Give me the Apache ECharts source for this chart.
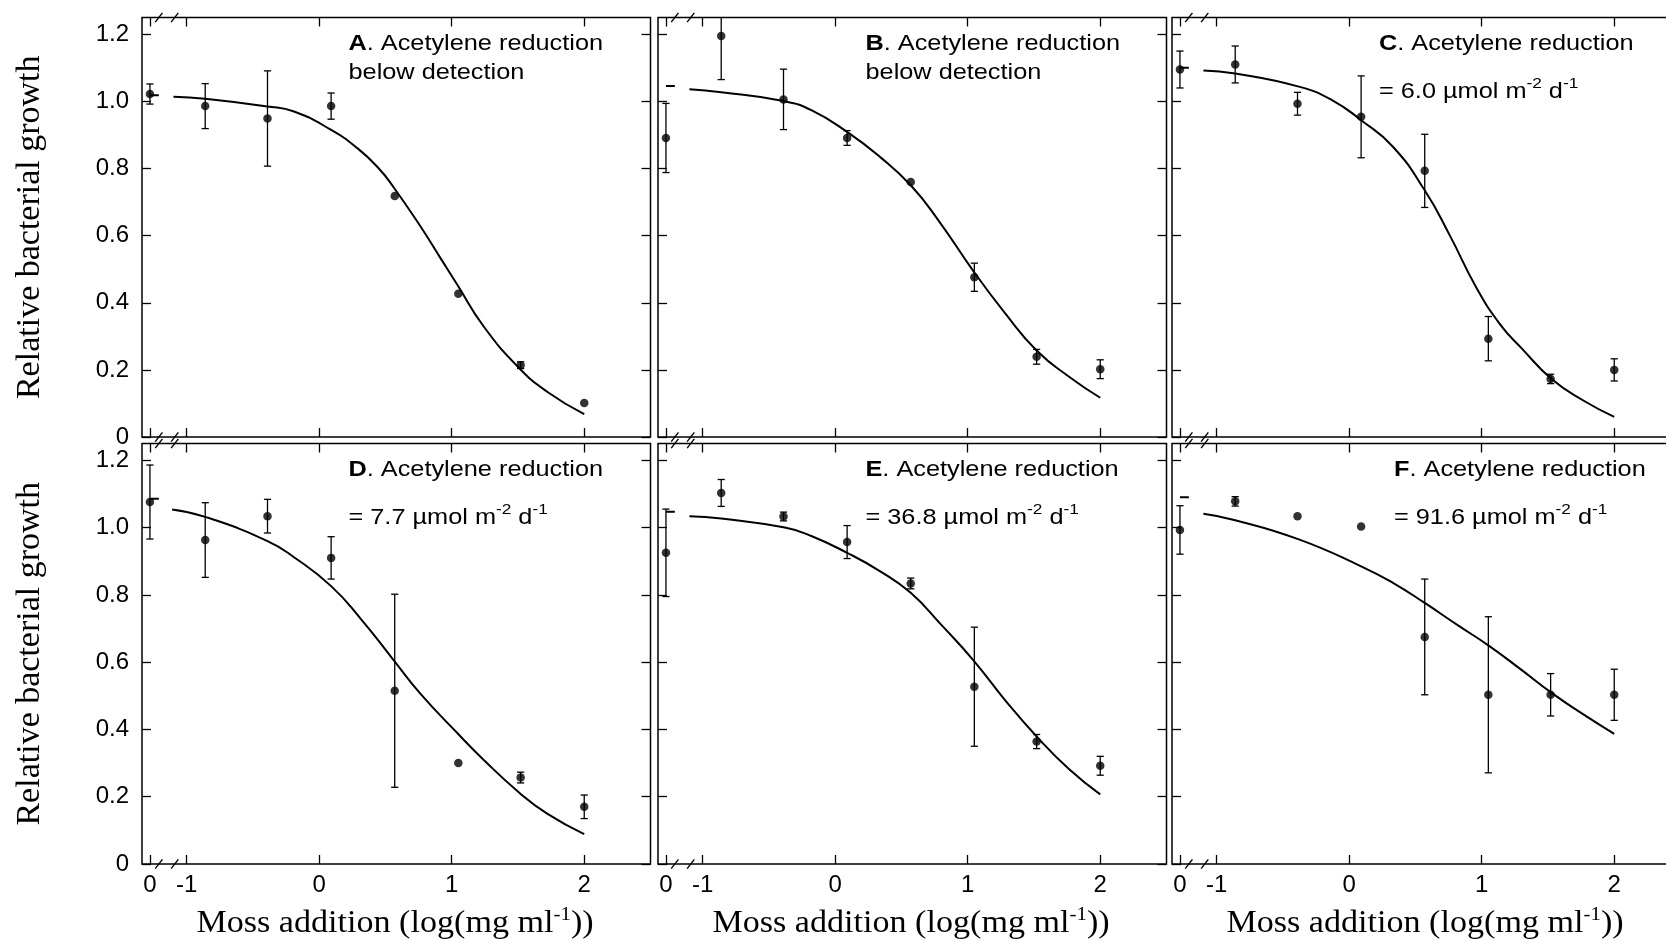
<!DOCTYPE html>
<html>
<head>
<meta charset="utf-8">
<title>Moss addition and relative bacterial growth</title>
<script src="https://cdn.jsdelivr.net/npm/echarts@6/dist/echarts.min.js"></script>
<style>
  html, body { margin: 0; padding: 0; background: #fff; }
  #chart { width: 1666px; height: 941px; }
</style>
</head>
<body>
<div id="chart"></div>
<script>
// ---- axis set-up (broken x axis: zero-addition control, then log10 concentration) ----
const X_MIN = -1.337;
const X_MAX = 2.5;
const Y_MIN = 0;
const Y_MAX = 1.25;
const CTRL_X = -1.277;            // where the zero-addition control sits on the broken axis
const DASH_END = -1.21;           // end of the fitted plateau dash drawn at the control
const BREAK_X = [-1.21, -1.09];   // the two "//" break marks
const X_TICKS = [CTRL_X, -1, 0, 1, 2];
const Y_TICKS = [0, 0.2, 0.4, 0.6, 0.8, 1.0, 1.2];

// ---- measured data ----
const PANEL_LETTERS = ['A', 'B', 'C', 'D', 'E', 'F'];
const ACETYLENE_RATE = [null, null, '6.0', '7.7', '36.8', '91.6'];   // µmol m-2 d-1
const MOSS_LOG = [-0.86, -0.39, 0.09, 0.57, 1.05, 1.52, 2.0];        // log(mg ml-1)

const CTRL_MEAN = [1.022, 0.891, 1.095, 1.076, 0.925, 0.993];
const CTRL_ERR  = [0.030, 0.103, 0.055, 0.110, 0.130, 0.072];

const MEAN_A = [0.986, 0.949, 0.986, 0.718, 0.427, 0.214, 0.101];
const ERR_A  = [0.067, 0.142, 0.039, 0, 0, 0.010, 0];
const MEAN_B = [1.195, 1.006, 0.891, 0.760, 0.476, 0.239, 0.202];
const ERR_B  = [0.130, 0.090, 0.022, 0, 0.042, 0.022, 0.028];
const MEAN_C = [1.110, 0.993, 0.954, 0.793, 0.293, 0.173, 0.200];
const ERR_C  = [0.055, 0.034, 0.122, 0.109, 0.066, 0.014, 0.033];
const MEAN_D = [0.963, 1.034, 0.910, 0.515, 0.300, 0.257, 0.170];
const ERR_D  = [0.111, 0.050, 0.063, 0.287, 0, 0.016, 0.035];
const MEAN_E = [1.103, 1.033, 0.957, 0.834, 0.527, 0.364, 0.292];
const ERR_E  = [0.040, 0.013, 0.049, 0.016, 0.177, 0.021, 0.028];
const MEAN_F = [1.078, 1.034, 1.003, 0.675, 0.503, 0.503, 0.503];
const ERR_F  = [0.014, 0, 0, 0.172, 0.232, 0.063, 0.076];

// fitted dose-response curves (upper plateau at zero addition, then the curve)
const FIT_TOP = [1.018, 1.046, 1.100, 1.086, 1.047, 1.090];
const CURVE_X_A = [-1.10, -0.86, -0.39, -0.19, 0.09, 0.29, 0.45, 0.56, 0.76, 0.92, 1.04, 1.24, 1.51, 1.72, 2.0];
const CURVE_Y_A = [1.014, 1.008, 0.985, 0.970, 0.915, 0.860, 0.800, 0.745, 0.630, 0.530, 0.455, 0.330, 0.205, 0.135, 0.068];
const CURVE_X_B = [-1.10, -0.86, -0.39, -0.18, 0.09, 0.34, 0.57, 0.78, 1.04, 1.28, 1.52, 1.77, 2.0];
const CURVE_Y_B = [1.036, 1.027, 1.001, 0.974, 0.909, 0.834, 0.750, 0.645, 0.496, 0.370, 0.258, 0.178, 0.117];
const CURVE_X_C = [-1.10, -0.86, -0.38, -0.13, 0.09, 0.33, 0.57, 0.76, 0.96, 1.14, 1.30, 1.53, 1.77, 2.0];
const CURVE_Y_C = [1.092, 1.083, 1.044, 1.004, 0.944, 0.865, 0.735, 0.600, 0.445, 0.335, 0.265, 0.172, 0.108, 0.060];
const CURVE_X_D = [-1.11, -0.86, -0.39, -0.19, 0.09, 0.32, 0.56, 0.76, 1.04, 1.24, 1.51, 1.72, 2.0];
const CURVE_Y_D = [1.054, 1.032, 0.960, 0.912, 0.826, 0.726, 0.607, 0.508, 0.390, 0.310, 0.212, 0.150, 0.089];
const CURVE_X_E = [-1.10, -0.86, -0.38, -0.18, 0.09, 0.34, 0.57, 0.81, 1.04, 1.28, 1.52, 1.77, 2.0];
const CURVE_Y_E = [1.034, 1.027, 1.000, 0.975, 0.925, 0.870, 0.806, 0.707, 0.607, 0.488, 0.379, 0.280, 0.207];
const CURVE_X_F = [-1.10, -0.86, -0.38, 0.09, 0.33, 0.57, 0.83, 1.05, 1.29, 1.53, 1.77, 2.0];
const CURVE_Y_F = [1.041, 1.022, 0.965, 0.885, 0.836, 0.776, 0.707, 0.650, 0.580, 0.508, 0.444, 0.387];

const MEANS = [MEAN_A, MEAN_B, MEAN_C, MEAN_D, MEAN_E, MEAN_F];
const ERRS = [ERR_A, ERR_B, ERR_C, ERR_D, ERR_E, ERR_F];
const CURVE_X = [CURVE_X_A, CURVE_X_B, CURVE_X_C, CURVE_X_D, CURVE_X_E, CURVE_X_F];
const CURVE_Y = [CURVE_Y_A, CURVE_Y_B, CURVE_Y_C, CURVE_Y_D, CURVE_Y_E, CURVE_Y_F];

// ---- layout ----
const GRID_LEFT = [142, 658, 1172];
const GRID_WIDTH = 508.5;
const GRID_TOP = [17.5, 443.5];
const GRID_HEIGHT = [419.5, 420.5];
const ANNOT_DX = [206.5, 207.5, 207, 206.5, 207.5, 222];
const SANS = '"Liberation Sans", Arial, Helvetica, sans-serif';
const SERIF = '"Liberation Serif", "Times New Roman", serif';
const TEXT_STRETCH = 1.15;
const TITLE_STRETCH = 1.1;
const INK = '#000';

const chart = echarts.init(document.getElementById('chart'), null, { renderer: 'canvas' });

const grids = [], xAxes = [], yAxes = [], series = [], graphics = [];

function xLabel(v) {
  return Math.abs(v - CTRL_X) < 1e-6 ? '0' : String(Math.round(v));
}
function yLabel(v) {
  return v === 0 ? '0' : v.toFixed(1);
}

function renderErrorBar(params, api) {
  const x = api.value(0), y = api.value(1), e = api.value(2);
  const hi = Math.min(y + e, Y_MAX);
  const top = api.coord([x, hi]);
  const bot = api.coord([x, y - e]);
  const hw = 3.6;
  const st = { stroke: INK, lineWidth: 1.3 };
  const kids = [
    { type: 'line', shape: { x1: top[0], y1: top[1], x2: bot[0], y2: bot[1] }, style: st },
    { type: 'line', shape: { x1: bot[0] - hw, y1: bot[1], x2: bot[0] + hw, y2: bot[1] }, style: st }
  ];
  if (y + e <= Y_MAX) {
    kids.push({ type: 'line', shape: { x1: top[0] - hw, y1: top[1], x2: top[0] + hw, y2: top[1] }, style: st });
  }
  return { type: 'group', children: kids };
}

function renderBreak(params, api) {
  const c = api.coord([api.value(0), api.value(1)]);
  return {
    type: 'line',
    shape: { x1: c[0] - 3.6, y1: c[1] + 4.6, x2: c[0] + 3.6, y2: c[1] - 4.6 },
    style: { stroke: INK, lineWidth: 1.4 }
  };
}

for (let p = 0; p < 6; p++) {
  const row = Math.floor(p / 3), col = p % 3;
  grids.push({
    left: GRID_LEFT[col], top: GRID_TOP[row], width: GRID_WIDTH, height: GRID_HEIGHT[row],
    show: true, borderColor: INK, borderWidth: 1.5, backgroundColor: 'transparent',
    containLabel: false, outerBoundsMode: 'none'
  });

  const tick = { show: true, inside: true, length: 9, lineStyle: { color: INK, width: 1.3 } };
  const noLine = { show: false, onZero: false };

  xAxes.push({
    gridIndex: p, type: 'value', position: 'bottom', min: X_MIN, max: X_MAX,
    axisLine: noLine, splitLine: { show: false },
    axisTick: Object.assign({ customValues: X_TICKS }, tick),
    axisLabel: {
      show: row === 1, customValues: X_TICKS, formatter: xLabel,
      color: INK, fontSize: 24, fontFamily: SANS, margin: 9
    }
  });
  xAxes.push({
    gridIndex: p, type: 'value', position: 'top', min: X_MIN, max: X_MAX,
    axisLine: noLine, splitLine: { show: false },
    axisTick: Object.assign({ customValues: X_TICKS }, tick),
    axisLabel: { show: false }
  });
  yAxes.push({
    gridIndex: p, type: 'value', position: 'left', min: Y_MIN, max: Y_MAX,
    axisLine: noLine, splitLine: { show: false },
    axisTick: Object.assign({ customValues: Y_TICKS }, tick),
    axisLabel: {
      show: col === 0, customValues: Y_TICKS, formatter: yLabel,
      color: INK, fontSize: 24, fontFamily: SANS, margin: 13
    }
  });
  yAxes.push({
    gridIndex: p, type: 'value', position: 'right', min: Y_MIN, max: Y_MAX,
    axisLine: noLine, splitLine: { show: false },
    axisTick: Object.assign({ customValues: Y_TICKS }, tick),
    axisLabel: { show: false }
  });

  const xi = 2 * p, yi = 2 * p;

  // fitted curve
  series.push({
    type: 'line', xAxisIndex: xi, yAxisIndex: yi,
    data: CURVE_X[p].map((x, i) => [x, CURVE_Y[p][i]]),
    smooth: 0.5, showSymbol: false, symbol: 'none',
    lineStyle: { color: INK, width: 2 }, silent: true, z: 2
  });
  // fitted plateau at zero addition
  series.push({
    type: 'line', xAxisIndex: xi, yAxisIndex: yi,
    data: [[CTRL_X, FIT_TOP[p]], [DASH_END, FIT_TOP[p]]],
    showSymbol: false, symbol: 'none',
    lineStyle: { color: INK, width: 2 }, silent: true, z: 2
  });
  // error bars
  const errData = [];
  if (CTRL_ERR[p] > 0) errData.push([CTRL_X, CTRL_MEAN[p], CTRL_ERR[p]]);
  MOSS_LOG.forEach((x, i) => { if (ERRS[p][i] > 0) errData.push([x, MEANS[p][i], ERRS[p][i]]); });
  series.push({
    type: 'custom', xAxisIndex: xi, yAxisIndex: yi,
    data: errData, renderItem: renderErrorBar, silent: true, z: 3
  });
  // means
  series.push({
    type: 'scatter', xAxisIndex: xi, yAxisIndex: yi,
    data: [[CTRL_X, CTRL_MEAN[p]]].concat(MOSS_LOG.map((x, i) => [x, MEANS[p][i]])),
    symbol: 'circle', symbolSize: 8.5, itemStyle: { color: INK }, silent: true, z: 4
  });
  // axis break marks on the top and bottom frame
  series.push({
    type: 'custom', xAxisIndex: xi, yAxisIndex: yi, clip: false,
    data: [[BREAK_X[0], Y_MIN], [BREAK_X[1], Y_MIN], [BREAK_X[0], Y_MAX], [BREAK_X[1], Y_MAX]],
    renderItem: renderBreak, silent: true, z: 5
  });

  // panel annotation
  const ax = GRID_LEFT[col] + ANNOT_DX[p];
  const gt = GRID_TOP[row];
  graphics.push({
    type: 'text', x: ax, y: gt + 26, scaleX: TEXT_STRETCH, silent: true,
    style: {
      text: '{b|' + PANEL_LETTERS[p] + '}{n|. Acetylene reduction}',
      align: 'left', verticalAlign: 'middle', textAlign: 'left', textVerticalAlign: 'middle',
      fill: INK, fontSize: 22, fontFamily: SANS,
      rich: {
        b: { fontSize: 22, fontFamily: SANS, fontWeight: 'bold', fill: INK },
        n: { fontSize: 22, fontFamily: SANS, fill: INK }
      }
    }
  });
  if (ACETYLENE_RATE[p] === null) {
    graphics.push({
      type: 'text', x: ax, y: gt + 55.5, scaleX: TEXT_STRETCH, silent: true,
      style: {
        text: 'below detection', align: 'left', verticalAlign: 'middle',
        textAlign: 'left', textVerticalAlign: 'middle',
        fill: INK, fontSize: 22, fontFamily: SANS
      }
    });
  } else {
    graphics.push({
      type: 'text', x: ax, y: gt + 74, scaleX: TEXT_STRETCH, silent: true,
      style: {
        text: '{n|= ' + ACETYLENE_RATE[p] + ' µmol m}{s|-2}{n| d}{s|-1}',
        align: 'left', verticalAlign: 'middle', textAlign: 'left', textVerticalAlign: 'middle',
        fill: INK, fontSize: 22, fontFamily: SANS,
        rich: {
          n: { fontSize: 22, fontFamily: SANS, fill: INK, lineHeight: 30 },
          s: { fontSize: 15, fontFamily: SANS, fill: INK, lineHeight: 15, verticalAlign: 'top' }
        }
      }
    });
  }
}

// axis titles
for (let r = 0; r < 2; r++) {
  graphics.push({
    type: 'text', x: 30.5, y: GRID_TOP[r] + GRID_HEIGHT[r] / 2, rotation: Math.PI / 2, silent: true,
    style: {
      text: 'Relative bacterial growth', align: 'center', verticalAlign: 'middle',
      textAlign: 'center', textVerticalAlign: 'middle',
      fill: INK, fontSize: 34, fontFamily: SERIF
    }
  });
}
for (let c = 0; c < 3; c++) {
  graphics.push({
    type: 'text', x: GRID_LEFT[c] + 253, y: 924, scaleX: TITLE_STRETCH, silent: true,
    style: {
      text: '{n|Moss addition (log(mg ml}{s|-1}{n|))}',
      align: 'center', verticalAlign: 'middle', textAlign: 'center', textVerticalAlign: 'middle',
      fill: INK, fontSize: 31, fontFamily: SERIF,
      rich: {
        n: { fontSize: 31, fontFamily: SERIF, fill: INK, lineHeight: 36 },
        s: { fontSize: 19, fontFamily: SERIF, fill: INK, lineHeight: 19, verticalAlign: 'top' }
      }
    }
  });
}

chart.setOption({
  animation: false,
  backgroundColor: '#fff',
  grid: grids,
  xAxis: xAxes,
  yAxis: yAxes,
  series: series,
  graphic: { elements: graphics }
});
</script>
</body>
</html>
